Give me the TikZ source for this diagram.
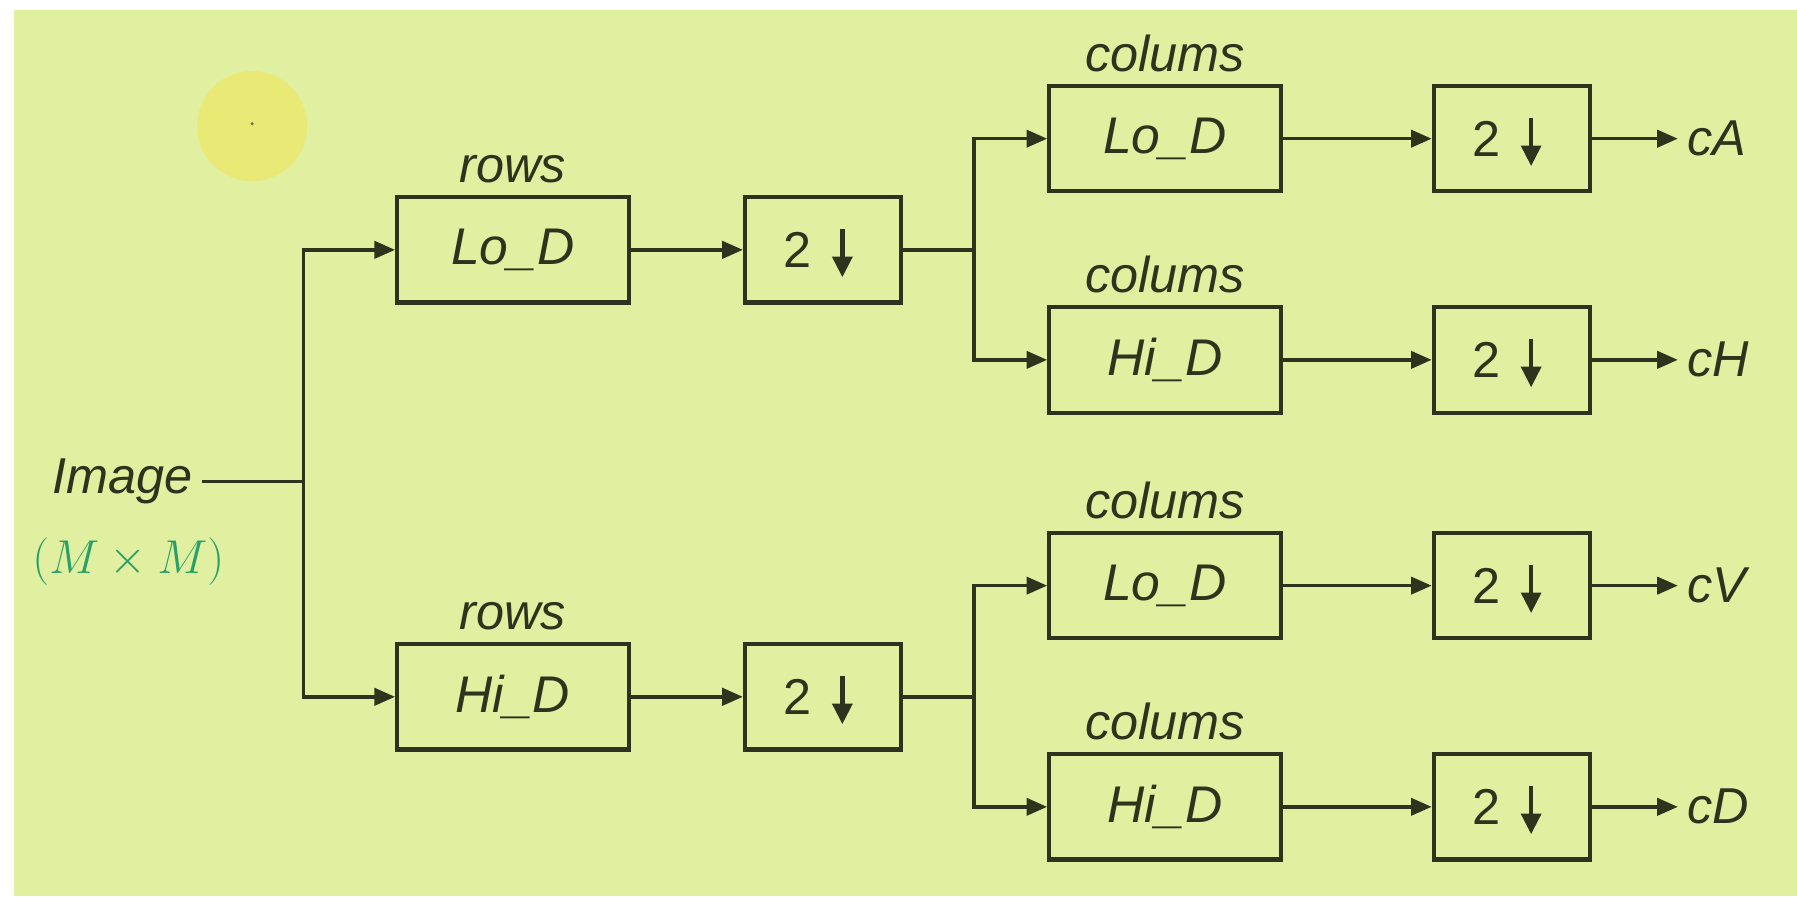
\documentclass[tikz,border=0pt]{standalone}
\usepackage{fontspec}
\setmainfont{Liberation Sans}
\usetikzlibrary{arrows.meta,positioning}
\definecolor{bg}{RGB}{224,239,160}
\definecolor{ink}{RGB}{45,52,30}
\definecolor{spot}{RGB}{233,233,118}
\definecolor{mgreen}{RGB}{40,160,105}
\begin{document}
\begin{tikzpicture}[x=0.5pt,y=-0.5pt,
  every path/.style={line width=1.5pt},
  box/.style={draw=ink, line width=1.8pt, minimum width=101pt, minimum height=46pt,
    inner sep=0pt, text=ink, font=\fontsize{22.5}{27}\selectfont\itshape},
  dbox/.style={draw=ink, line width=1.8pt, minimum width=68pt, minimum height=46pt,
    inner sep=0pt, text=ink, font=\fontsize{22}{26}\selectfont,
    path picture={\draw[ink, line width=2pt, -{Triangle[length=9pt,width=8.5pt]}]
      ([shift={(8.5pt,9pt)}]path picture bounding box.center) --
      ([shift={(8.5pt,-12pt)}]path picture bounding box.center);}},
  lbl/.style={text=ink, font=\fontsize{22}{26}\selectfont\itshape},
  arr/.style={draw=ink, -{Triangle[length=9pt,width=7.5pt]}},
  ln/.style={draw=ink}
]
\useasboundingbox (0,0) rectangle (1568,782);
\fill[white] (0,0) rectangle (1568,782);
\fill[bg] (12,9) rectangle (1568,782);
\fill[spot] (220,110) circle (48);
\fill[ink!70] (220,108) circle (1.6);

% input
\node[lbl] (img) at (107,420) {Image};
\node[text=mgreen, font=\fontsize{22}{26}\selectfont] (mm) at (112,490) {$(M\times M)$};
\coordinate (j0) at (265,420);

% rows stage
\node[box] (rl) at (447.5,218) {Lo\_D};
\node[dbox] (rld) at (718,218) {2\kern22pt};
\node[box] (rh) at (447.5,608) {Hi\_D};
\node[dbox] (rhd) at (718,608) {2\kern22pt};
\node[lbl, above=1pt of rl] (rlt) {rows};
\node[lbl, above=1pt of rh] (rht) {rows};
\coordinate (j1) at (850,218);
\coordinate (j2) at (850,608);

% columns stage
\node[box] (c1) at (1016.5,121) {Lo\_D};
\node[box] (c2) at (1016.5,314) {Hi\_D};
\node[box] (c3) at (1016.5,511) {Lo\_D};
\node[box] (c4) at (1016.5,704) {Hi\_D};
\foreach \n in {1,2,3,4} {
  \node[lbl, above=1pt of c\n] (c\n t) {colums};
}
\node[dbox] (d1) at (1319,121) {2\kern22pt};
\node[dbox] (d2) at (1319,314) {2\kern22pt};
\node[dbox] (d3) at (1319,511) {2\kern22pt};
\node[dbox] (d4) at (1319,704) {2\kern22pt};

\node[lbl, anchor=west] (oA) at (1464,121) {cA};
\node[lbl, anchor=west] (oH) at (1464,314) {cH};
\node[lbl, anchor=west] (oV) at (1464,511) {cV};
\node[lbl, anchor=west] (oD) at (1464,704) {cD};

% connectors
\draw[ln] (img.east) -- (j0);
\draw[arr] (j0) |- (rl.west);
\draw[arr] (j0) |- (rh.west);
\draw[arr] (rl.east) -- (rld.west);
\draw[arr] (rh.east) -- (rhd.west);
\draw[ln] (rld.east) -- (j1);
\draw[ln] (rhd.east) -- (j2);
\draw[arr] (j1) |- (c1.west);
\draw[arr] (j1) |- (c2.west);
\draw[arr] (j2) |- (c3.west);
\draw[arr] (j2) |- (c4.west);
\foreach \n/\o in {1/oA,2/oH,3/oV,4/oD} {
  \draw[arr] (c\n.east) -- (d\n.west);
  \draw[arr] (d\n.east) -- (\o.west);
}
\end{tikzpicture}
\end{document}
